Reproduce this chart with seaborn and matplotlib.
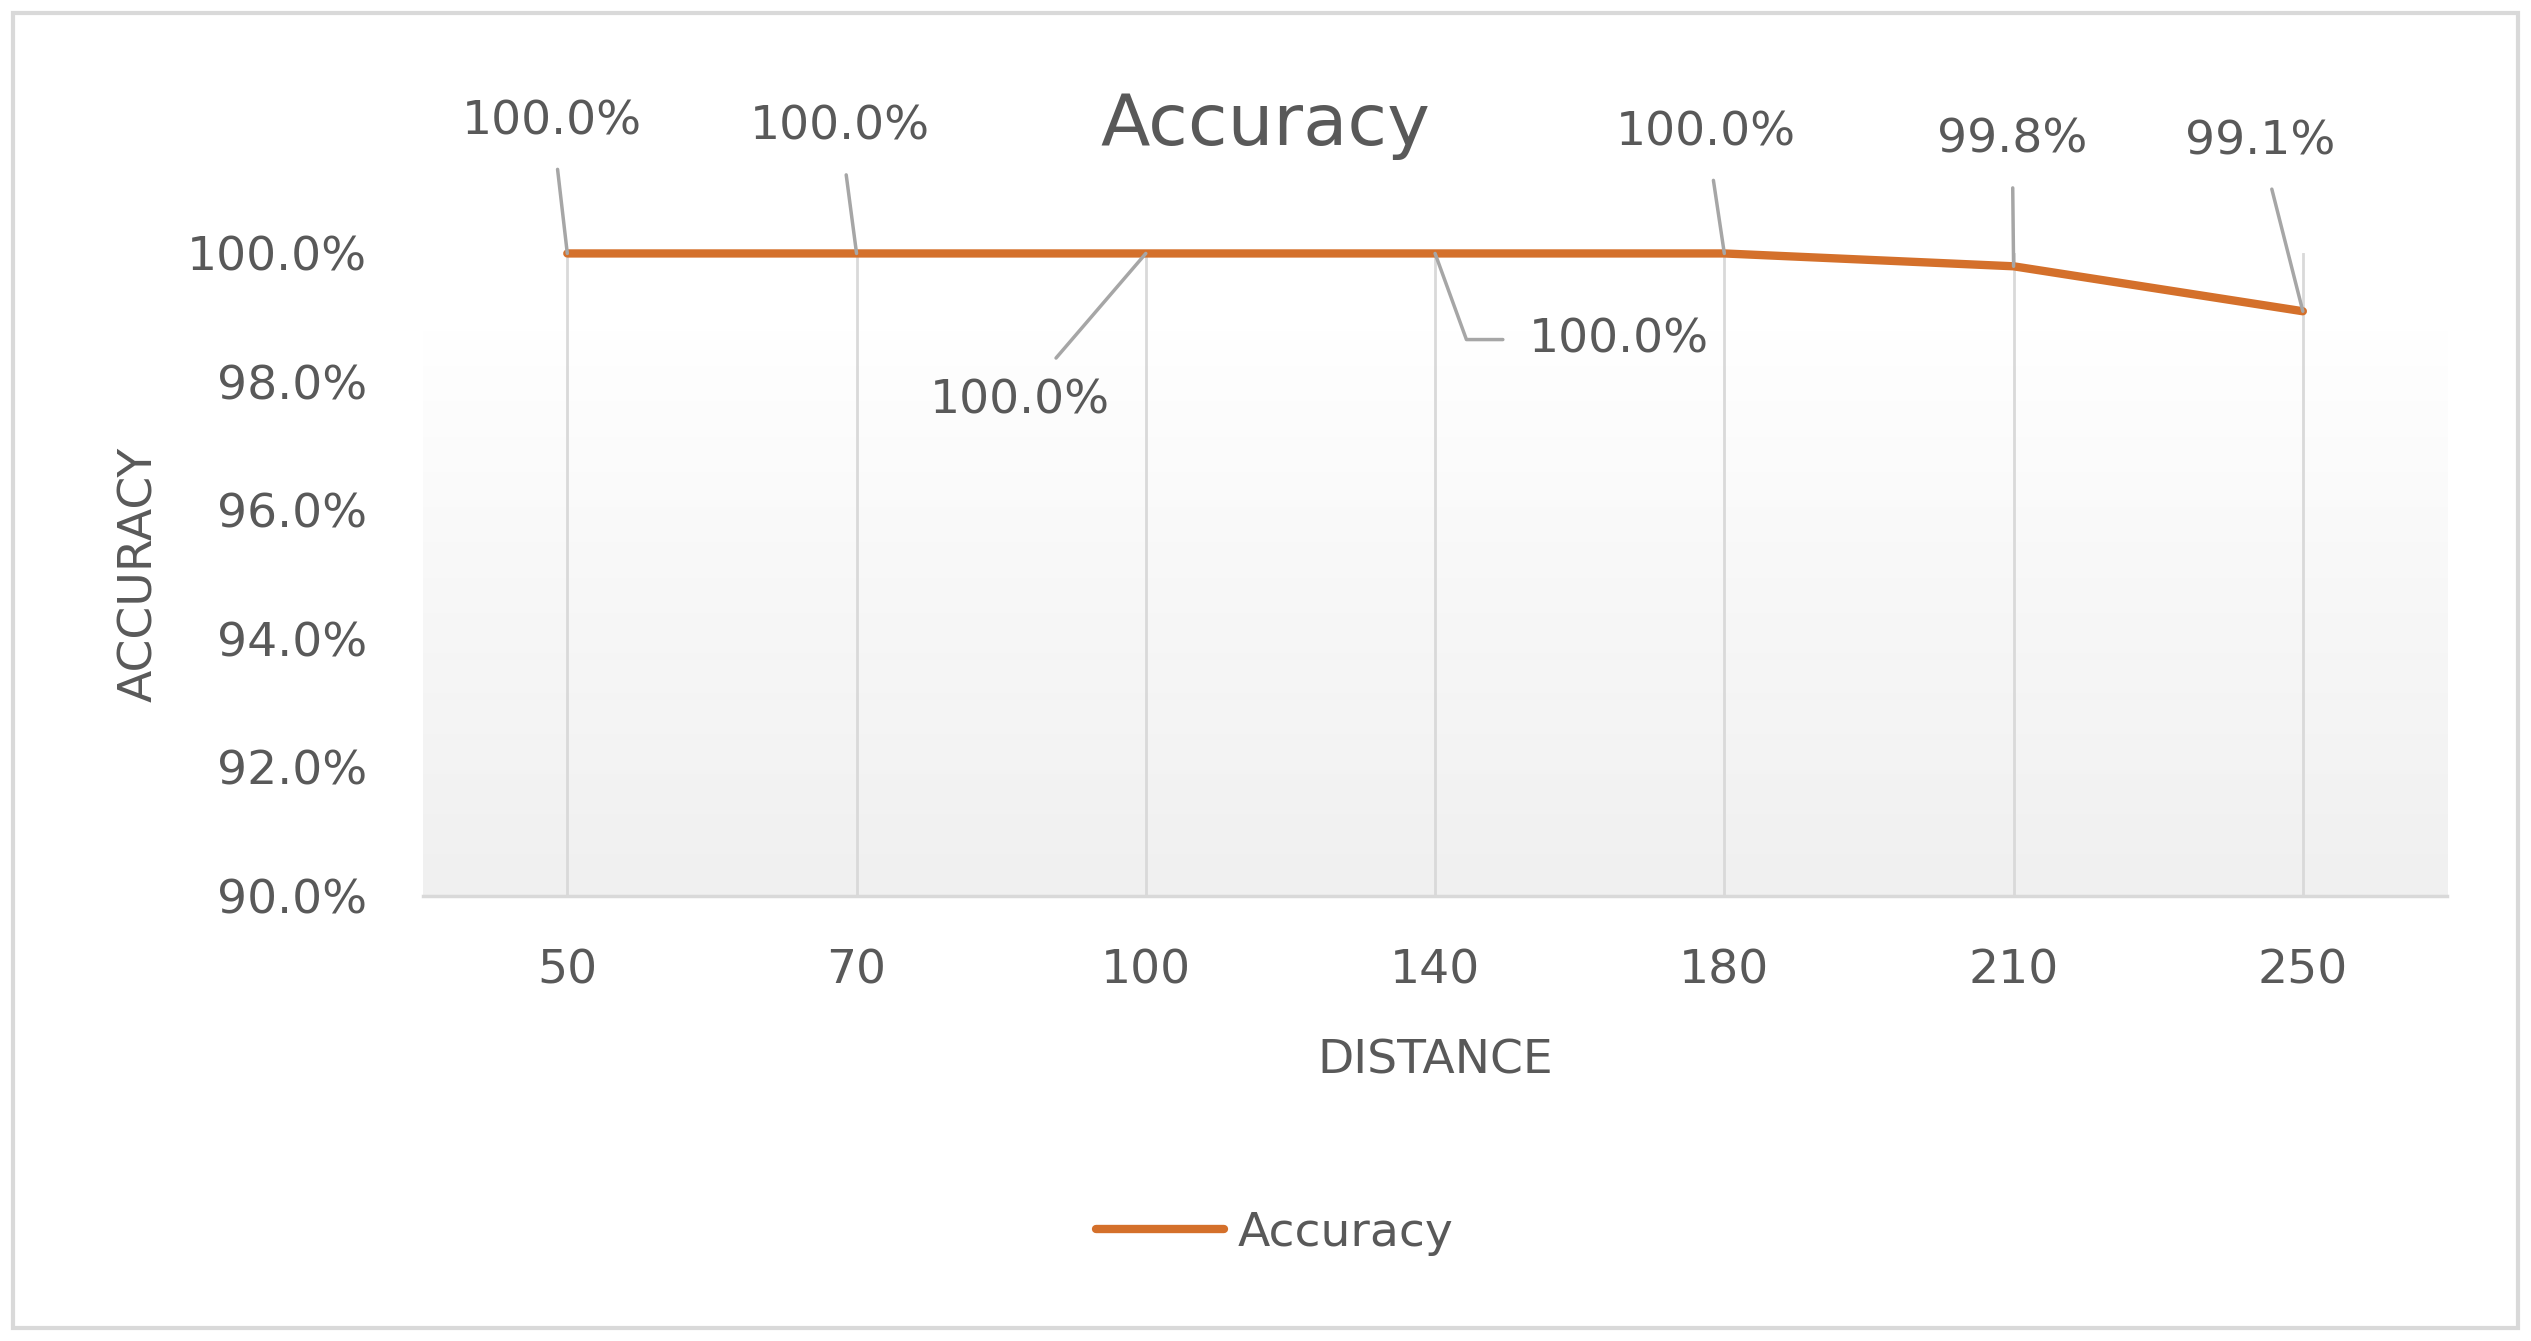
import numpy as np
import pandas as pd
import matplotlib
matplotlib.use("Agg")
import matplotlib.pyplot as plt
from matplotlib.colors import LinearSegmentedColormap
from matplotlib.patches import Rectangle
from matplotlib.ticker import PercentFormatter
import seaborn as sns

distance = ["50", "70", "100", "140", "180", "210", "250"]
accuracy = [1.000, 1.000, 1.000, 1.000, 1.000, 0.998, 0.991]
label_text = ["100.0%", "100.0%", "100.0%", "100.0%", "100.0%", "99.8%", "99.1%"]
# label offsets from the point, in points
label_offsets = [(-11, 95), (-12, 91), (-91, -106), (132, -62), (-13, 87), (-1, 91), (-31, 122)]

df = pd.DataFrame({"distance": distance, "accuracy": accuracy})

sns.set_style("white")
plt.rcParams["font.family"] = ["DejaVu Sans"]
grey_txt = "#595959"
orange = "#d4702b"
fs = 34

fig = plt.figure(figsize=(25.31, 13.41), dpi=100)
ax = fig.add_axes([0.167, 0.332, 0.800, 0.479])

# gradient plot-area fill
grad = np.linspace(0, 1, 256).reshape(-1, 1)
cmap = LinearSegmentedColormap.from_list("bg", ["#ffffff", "#f7f7f7", "#f0f0f0"])
ax.imshow(grad, extent=[-0.5, 6.5, 0.90, 0.988], aspect="auto", cmap=cmap,
          origin="upper", zorder=0)

sns.lineplot(data=df, x="distance", y="accuracy", ax=ax, color=orange,
             linewidth=6, label="Accuracy", zorder=3, clip_on=False,
             solid_capstyle="round")

ax.set_xlim(-0.5, 6.5)
ax.set_ylim(0.90, 1.00)
ax.set_yticks([0.90, 0.92, 0.94, 0.96, 0.98, 1.00])
ax.yaxis.set_major_formatter(PercentFormatter(1.0, decimals=1))
ax.grid(axis="x", color="#d9d9d9", linewidth=2, zorder=1)
ax.grid(axis="y", visible=False)
ax.set_axisbelow(True)
for s in ["top", "right", "left"]:
    ax.spines[s].set_visible(False)
ax.spines["bottom"].set_color("#d9d9d9")
ax.spines["bottom"].set_linewidth(2.5)
ax.tick_params(axis="both", length=0, labelsize=fs, labelcolor=grey_txt)
ax.tick_params(axis="y", pad=40)
ax.tick_params(axis="x", pad=38)

ax.set_xlabel("DISTANCE", fontsize=fs, color=grey_txt, labelpad=32)
ax.set_ylabel("ACCURACY", fontsize=fs, color=grey_txt, labelpad=18)

for i, (txt, off) in enumerate(zip(label_text, label_offsets)):
    cs = "angle,angleA=180,angleB=-70,rad=0" if i == 3 else "arc3"
    ax.annotate(txt, xy=(i, accuracy[i]), xytext=off, textcoords="offset points",
                ha="center", va="center", fontsize=fs, color=grey_txt,
                annotation_clip=False, zorder=4,
                arrowprops=dict(arrowstyle="-", color="#a6a6a6", lw=2.5,
                                shrinkA=16, shrinkB=0, connectionstyle=cs))

fig.text(0.5, 1 - 126 / 1341, "Accuracy", ha="center", va="center",
         fontsize=52, color=grey_txt)

ax.legend_.remove()
handles, labels = ax.get_legend_handles_labels()
fig.legend(handles, labels, loc="center", bbox_to_anchor=(1275 / 2531, 1 - 1233 / 1341),
           frameon=False, fontsize=fs, labelcolor=grey_txt, handlelength=2.7,
           handletextpad=0.3)

fig.patches.append(Rectangle((13 / 2531, 13 / 1341), 1 - 26 / 2531, 1 - 26 / 1341,
                             transform=fig.transFigure, fill=False,
                             edgecolor="#d9d9d9", linewidth=3))

fig.savefig("out.png", dpi=100, facecolor="white")
